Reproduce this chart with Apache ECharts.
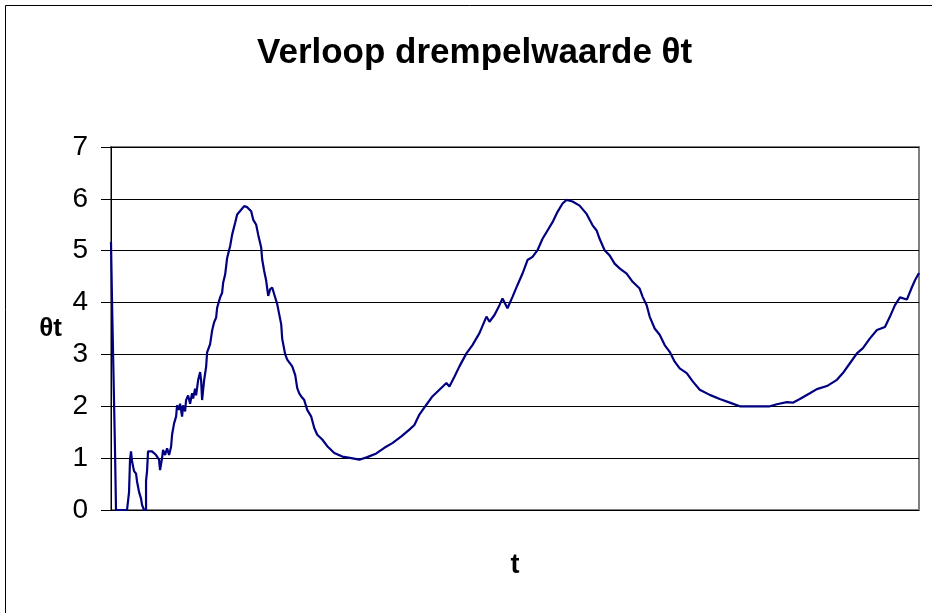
<!DOCTYPE html>
<html>
<head>
<meta charset="utf-8">
<script src="https://cdn.jsdelivr.net/npm/echarts@6/dist/echarts.min.js"></script>
<style>
  html, body { margin: 0; padding: 0; background: #fff; }
  #chart { width: 932px; height: 613px; }
</style>
</head>
<body>
<div id="chart"></div>
<script>
// tijdstap t en drempelwaarde θt
const tValues = [
  0, 1, 4, 5, 16, 18, 19, 20, 21, 23, 25, 26, 28, 30, 31, 33, 35, 35, 36, 37,
  41, 45, 48, 49, 51, 52, 54, 56, 58, 60, 61, 63, 65, 66, 68, 69, 71, 72, 74, 75,
  77, 79, 81, 82, 84, 85, 87, 89, 90, 91, 93, 95, 96, 99, 101, 103, 105, 106, 109, 111,
  112, 114, 116, 119, 121, 124, 126, 130, 133, 136, 140, 142, 145, 147, 150, 151, 153, 155, 157, 159,
  161, 163, 166, 170, 171, 174, 176, 181, 184, 186, 188, 190, 193, 196, 200, 203, 206, 211, 216, 223,
  231, 240, 248, 256, 265, 273, 281, 290, 298, 303, 308, 315, 321, 328, 335, 338, 343, 348, 355, 361,
  368, 375, 378, 383, 388, 391, 396, 401, 406, 411, 416, 421, 426, 431, 436, 441, 446, 451, 455, 461,
  468, 475, 481, 485, 488, 493, 498, 503, 508, 515, 521, 528, 531, 535, 538, 543, 548, 553, 558, 563,
  568, 575, 581, 588, 598, 608, 618, 628, 638, 648, 658, 665, 675, 681, 688, 698, 705, 715, 725, 731,
  738, 745, 751, 758, 765, 773, 778, 783, 788, 795, 800, 803, 807
];
const thetaValues = [
  5.17, 4.05, 1.16, 0, 0, 0.34, 0.97, 1.13, 0.94, 0.75, 0.7, 0.55, 0.35, 0.22, 0.1, 0, 0, 0.56, 0.75, 1.13,
  1.13, 1.06, 0.97, 0.77, 1.0, 1.16, 1.06, 1.19, 1.06, 1.22, 1.45, 1.67, 1.8, 2.02, 1.93, 2.05, 1.8, 2.02, 1.9, 2.12,
  2.21, 2.05, 2.25, 2.15, 2.34, 2.21, 2.5, 2.66, 2.5, 2.12, 2.5, 2.76, 3.04, 3.2, 3.46, 3.62, 3.71, 3.9, 4.1, 4.19,
  4.38, 4.54, 4.86, 5.09, 5.31, 5.54, 5.7, 5.79, 5.86, 5.84, 5.76, 5.6, 5.5, 5.31, 5.06, 4.83, 4.61, 4.42, 4.13, 4.26,
  4.29, 4.16, 3.97, 3.58, 3.3, 3.0, 2.9, 2.77, 2.6, 2.35, 2.25, 2.19, 2.12, 1.93, 1.8, 1.58, 1.45, 1.36, 1.23, 1.1,
  1.03, 1.0, 0.97, 1.02, 1.09, 1.2, 1.29, 1.42, 1.55, 1.64, 1.84, 2.03, 2.19, 2.32, 2.45, 2.38, 2.57, 2.77, 3.02, 3.18,
  3.41, 3.73, 3.63, 3.76, 3.95, 4.08, 3.89, 4.11, 4.34, 4.56, 4.82, 4.88, 5.01, 5.23, 5.39, 5.55, 5.75, 5.91, 5.98, 5.95,
  5.87, 5.71, 5.49, 5.39, 5.23, 5.01, 4.91, 4.75, 4.66, 4.56, 4.4, 4.27, 4.11, 3.95, 3.73, 3.5, 3.38, 3.18, 3.05, 2.86,
  2.73, 2.64, 2.48, 2.32, 2.22, 2.14, 2.07, 2.0, 2.0, 2.0, 2.0, 2.04, 2.08, 2.07, 2.14, 2.25, 2.33, 2.39, 2.51, 2.64,
  2.83, 3.02, 3.12, 3.31, 3.47, 3.53, 3.73, 3.95, 4.1, 4.06, 4.3, 4.43, 4.57
];
const yTicks = [0, 1, 2, 3, 4, 5, 6, 7];

const font = "Arial, 'Liberation Sans', sans-serif";
const chart = echarts.init(document.getElementById("chart"));

const option = {
  backgroundColor: "#fff",
  animation: false,
  title: {
    text: "Verloop drempelwaarde θt",
    left: 252,
    top: 31,
    textStyle: { fontFamily: font, fontSize: 35, fontWeight: "bold", color: "#000" },
  },
  graphic: [
    {
      type: "rect",
      shape: { x: 5.5, y: 5.5, width: 1000, height: 1000 },
      style: { fill: "none", stroke: "#000", lineWidth: 1 },
      silent: true,
    },
  ],
  grid: {
    left: 111,
    right: 13,
    top: 147,
    bottom: 103,
    show: true,
    borderColor: "#808080",
    borderWidth: 2,
    backgroundColor: "#fff",
  },
  xAxis: {
    type: "value",
    min: 0,
    max: 807,
    name: "t",
    nameLocation: "middle",
    nameGap: 42,
    nameTextStyle: { fontFamily: font, fontSize: 27, fontWeight: "bold", color: "#000" },
    axisLine: { show: false },
    axisTick: { show: false },
    axisLabel: { show: false },
    splitLine: { show: false },
  },
  yAxis: {
    type: "value",
    min: yTicks[0],
    max: yTicks[yTicks.length - 1],
    interval: 1,
    name: "θt",
    nameLocation: "middle",
    nameRotate: 0,
    nameGap: 49,
    nameTextStyle: { fontFamily: font, fontSize: 26, fontWeight: "bold", color: "#000" },
    axisLine: { show: true, lineStyle: { color: "#000", width: 1 } },
    axisTick: { show: true, inside: false, length: 10, lineStyle: { color: "#000" } },
    axisLabel: { fontFamily: font, fontSize: 28, color: "#000", margin: 23 },
    splitLine: { show: true, lineStyle: { color: "#000", width: 1 } },
  },
  series: [
    {
      type: "line",
      data: tValues.map((t, i) => [t, thetaValues[i]]),
      symbol: "none",
      lineStyle: { color: "#000080", width: 2.2 },
      z: 5,
    },
  ],
};

chart.setOption(option);
</script>
</body>
</html>
